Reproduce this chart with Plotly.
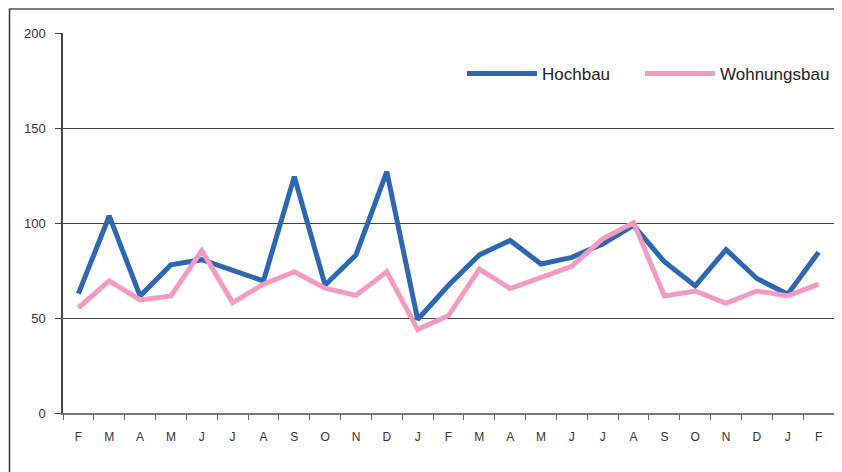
import plotly.graph_objects as go

months = ["F", "M", "A", "M", "J", "J", "A", "S", "O", "N", "D", "J",
          "F", "M", "A", "M", "J", "J", "A", "S", "O", "N", "D", "J", "F"]
hochbau = [62.8, 103.7, 61.6, 78.0, 80.7, 74.8, 69.5, 124.4, 67.3, 83.2, 127.0, 49.2,
           67.2, 83.2, 90.8, 78.4, 81.9, 89.0, 98.7, 79.6, 66.9, 86.0, 70.8, 62.5, 84.6]
wohnungsbau = [55.4, 69.5, 59.5, 61.6, 85.5, 58.1, 67.8, 74.3, 65.7, 61.9, 74.3, 43.9,
               51.3, 75.7, 65.5, 71.3, 77.2, 91.7, 100.2, 61.6, 64.2, 57.7, 64.2, 61.6, 67.8]
y_ticks = [0, 50, 100, 150, 200]

idx = list(range(len(months)))

fig = go.Figure()
fig.add_trace(go.Scatter(x=idx, y=hochbau, mode="lines", name="Hochbau",
                         line=dict(color="#2E67B1", width=5), legend="legend"))
fig.add_trace(go.Scatter(x=idx, y=wohnungsbau, mode="lines", name="Wohnungsbau",
                         line=dict(color="#F49AC1", width=5), legend="legend2"))

# page is offset by the 8px body margin
OFF = 8
W, H = 842 - OFF, 472 - OFF
L, R, T, B = 63 - OFF, 8, 33 - OFF, 59
pw, ph = W - L - R, H - T - B

def px_x(p):
    return (p - OFF - L) / pw

def px_y(p):
    return (H - B - (p - OFF)) / ph

def cx(p):
    return (p - OFF) / W

def cy(p):
    return 1 - (p - OFF) / H

leg_common = dict(orientation="h", y=cy(74), xanchor="left", yanchor="middle",
                  xref="container", yref="container",
                  font=dict(size=17, color="#222222"), itemwidth=70,
                  bgcolor="rgba(0,0,0,0)")

fig.update_layout(
    width=W, height=H,
    margin=dict(l=L, r=R, t=T, b=B, pad=0, autoexpand=False),
    paper_bgcolor="white", plot_bgcolor="white",
    font=dict(family="Liberation Sans, Arial, sans-serif", color="#333333"),
    showlegend=True,
    legend=dict(x=cx(462), **leg_common),
    legend2=dict(x=cx(640), **leg_common),
    xaxis=dict(range=[-0.5, len(months) - 0.5], tickmode="array", tickvals=idx,
               ticktext=months, ticks="", showgrid=False, zeroline=False,
               showline=True, linecolor="#777777", linewidth=1.5,
               tickfont=dict(size=12, color="#333333"), ticklabelstandoff=12,
               minor=dict(tickmode="linear", tick0=-0.5, dtick=1, ticks="outside",
                          ticklen=5, tickcolor="#666666", tickwidth=1, showgrid=False)),
    yaxis=dict(range=[0, 200], tickmode="array", tickvals=y_ticks, ticks="outside",
               ticklen=6, tickcolor="#444444", showgrid=True, gridcolor="#444444",
               gridwidth=1, zeroline=False, showline=True, linecolor="#444444",
               linewidth=1.5, tickfont=dict(size=13, color="#333333"),
               ticklabelstandoff=7),
    shapes=[
        dict(type="line", xref="paper", yref="paper", x0=px_x(9), x1=px_x(842),
             y0=px_y(9), y1=px_y(9), line=dict(color="#555555", width=1.5)),
        dict(type="line", xref="paper", yref="paper", x0=px_x(9.5), x1=px_x(9.5),
             y0=px_y(9), y1=px_y(472), line=dict(color="#333333", width=1.5)),
    ],
)

fig.write_html("out.html")
